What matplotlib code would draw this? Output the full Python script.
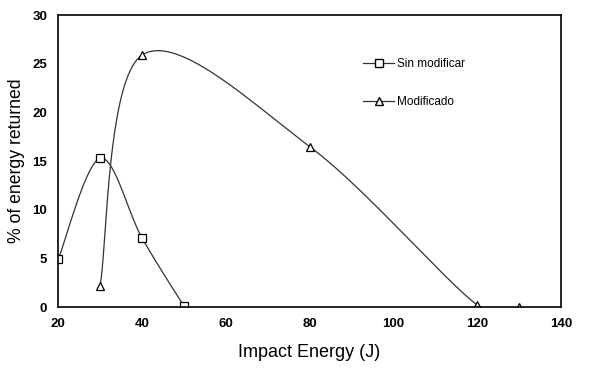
import numpy as np
import matplotlib
matplotlib.use("Agg")
import matplotlib.pyplot as plt

plt.rcParams['font.family'] = ['Liberation Sans', 'DejaVu Sans']

# data
x_sin = [20, 30, 40, 50]
y_sin = [4.9, 15.3, 7.1, 0.1]
x_mod = [30, 40, 80, 120, 130]
y_mod = [2.2, 25.9, 16.5, 0.2, 0.0]


def smooth(xs, ys, n=40):
    # Excel-like smoothing (Catmull-Rom through the points)
    p = np.column_stack([xs, ys]).astype(float)
    p = np.vstack([p[0], p, p[-1]])
    out = []
    for i in range(1, len(p) - 2):
        p0, p1, p2, p3 = p[i - 1], p[i], p[i + 1], p[i + 2]
        c1 = p1 + (p2 - p0) / 6
        c2 = p2 - (p3 - p1) / 6
        t = np.linspace(0, 1, n)[:, None]
        seg = ((1 - t) ** 3) * p1 + 3 * ((1 - t) ** 2) * t * c1 + 3 * (1 - t) * t ** 2 * c2 + t ** 3 * p2
        out.append(seg)
    s = np.vstack(out)
    return s[:, 0], s[:, 1]


fig = plt.figure(figsize=(6, 3.8), dpi=100)
ax = fig.add_axes([0.097, 0.192, 0.838, 0.768])

sx, sy = smooth(x_sin, y_sin)
ax.plot(sx, sy, color='#333333', lw=0.9)
ax.plot(x_sin, y_sin, ls='none', marker='s', ms=6, mfc='white', mec='black', mew=0.9)
mx, my = smooth(x_mod, y_mod)
ax.plot(mx, my, color='#333333', lw=0.9)
ax.plot(x_mod, y_mod, ls='none', marker='^', ms=6, mfc='white', mec='black', mew=0.9)

# legend proxies
h1, = ax.plot([], [], color='#333333', lw=0.9, marker='s', ms=6, mfc='white', mec='black')
h2, = ax.plot([], [], color='#333333', lw=0.9, marker='^', ms=6, mfc='white', mec='black')
ax.legend([h1, h2], ['Sin modificar', 'Modificado'], frameon=False, fontsize=8.5,
          loc='upper left', bbox_to_anchor=(0.596, 0.87), labelspacing=2.2,
          handlelength=2.7, handletextpad=0.2, borderaxespad=0)

ax.set_xlim(20, 140)
ax.set_ylim(0, 30)
ax.set_xticks([20, 40, 60, 80, 100, 120, 140])
ax.set_yticks([0, 5, 10, 15, 20, 25, 30])
ax.tick_params(length=0, pad=8, labelsize=9.5)
for lab in ax.get_xticklabels() + ax.get_yticklabels():
    lab.set_fontweight('bold')
for sp in ax.spines.values():
    sp.set_linewidth(1.2)
ax.set_xlabel('Impact Energy (J)', fontsize=13, labelpad=10)
ax.set_ylabel('% of energy returned', fontsize=12.7, labelpad=5)

fig.savefig('out.png', dpi=100)
